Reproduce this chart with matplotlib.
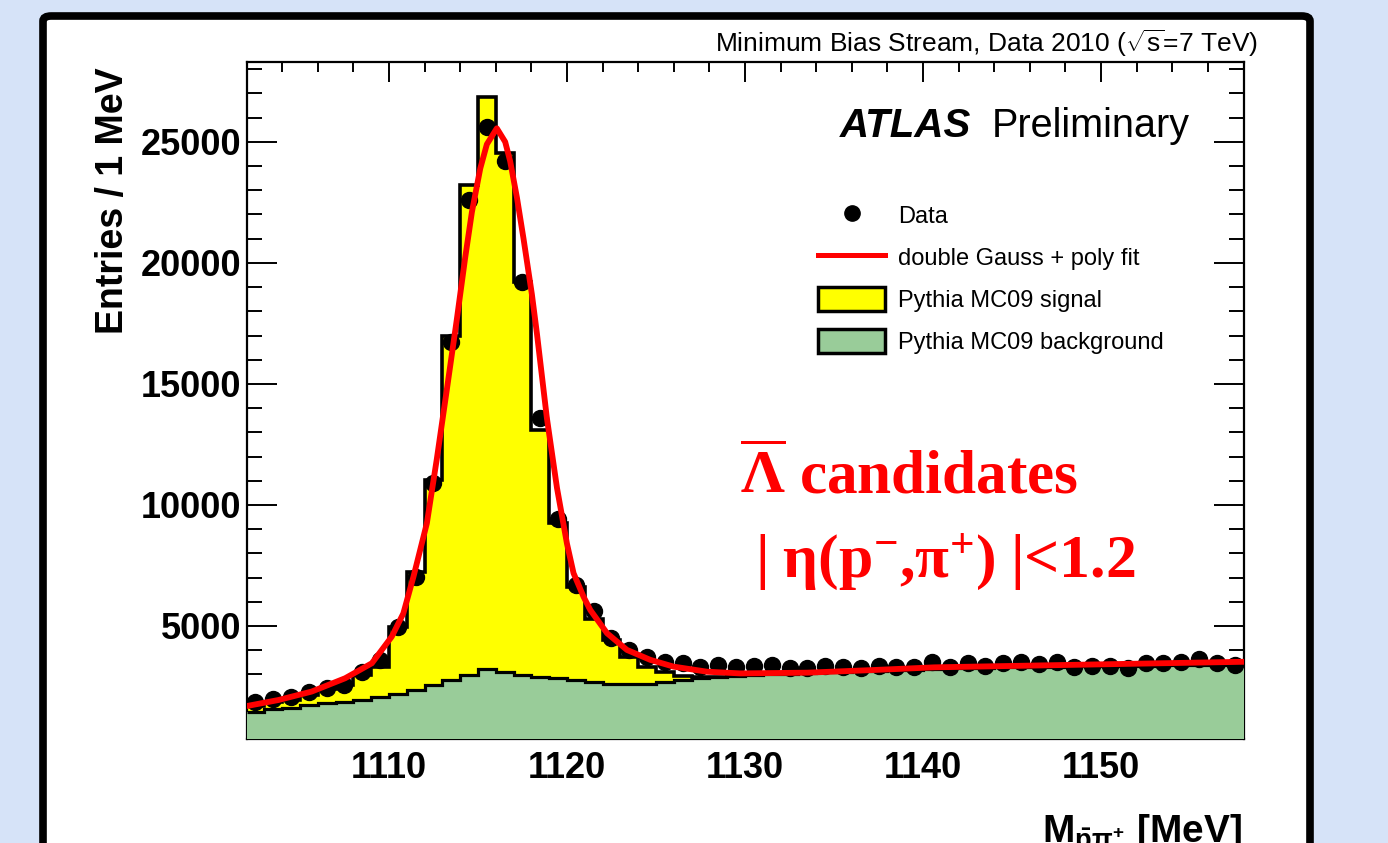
import numpy as np
import matplotlib
matplotlib.use('Agg')
import matplotlib.pyplot as plt
from matplotlib.lines import Line2D
from matplotlib.patches import Patch, FancyBboxPatch

plt.rcParams['font.family'] = ['Liberation Sans', 'DejaVu Sans']
plt.rcParams['mathtext.fontset'] = 'custom'
plt.rcParams['mathtext.rm'] = 'Liberation Sans'
plt.rcParams['mathtext.it'] = 'Liberation Sans:italic'
plt.rcParams['mathtext.sf'] = 'Liberation Sans:bold'
plt.rcParams['mathtext.bf'] = 'Liberation Serif:bold'

# histogram bins, 1 MeV wide
edges = np.arange(1102, 1159, 1)
centers = edges[:-1] + 0.5

data = [1860, 2000, 2080, 2290, 2440, 2560, 3110, 3600, 4970, 7040,
        10900, 16750, 22600, 25600, 24200, 19200, 13600, 9400, 6700, 5600,
        4500, 4000, 3730, 3520, 3470, 3320, 3390, 3290, 3350, 3390,
        3260, 3260, 3350, 3320, 3260, 3350, 3320, 3300, 3525, 3320,
        3470, 3350, 3470, 3525, 3430, 3525, 3320, 3350, 3350, 3260,
        3470, 3470, 3525, 3640, 3470, 3390]

background = [1450, 1560, 1620, 1730, 1800, 1870, 1950, 2080, 2200, 2340,
              2560, 2770, 2975, 3210, 3110, 2975, 2900, 2840, 2750, 2690,
              2620, 2600, 2600, 2700, 2770, 2850, 2900, 2950, 2980, 3000,
              3020, 3050, 3080, 3100, 3130, 3150, 3180, 3200, 3230, 3250,
              3260, 3280, 3290, 3300, 3310, 3320, 3330, 3340, 3350, 3360,
              3360, 3370, 3380, 3390, 3390, 3400]

signal = [250, 290, 330, 420, 600, 690, 1025, 1240, 2770, 4900,
          8470, 14210, 20245, 23650, 21435, 16255, 10200, 6416, 3874, 2610,
          1800, 1120, 700, 400, 180, 50, 0, 0, 0, 0,
          0, 0, 0, 0, 0, 0, 0, 0, 0, 0,
          0, 0, 0, 0, 0, 0, 0, 0, 0, 0,
          0, 0, 0, 0, 0, 0]

fit_mass = [1102.0, 1103.79, 1105.66, 1107.54, 1109.04, 1110.16, 1110.81, 1111.38,
            1112.13, 1112.69, 1113.25, 1113.82, 1114.28, 1114.66, 1115.13,
            1115.5, 1116.06, 1116.53, 1116.81, 1117.19, 1117.56, 1118.03, 1118.31,
            1118.87, 1119.44, 1120.0, 1120.37, 1120.93, 1121.31, 1122.25, 1123.37,
            1124.68, 1125.99, 1127.87, 1129.74, 1133.49, 1137.23, 1140.61, 1148.1,
            1158.0]
fit_value = [1690, 1940, 2290, 2840, 3460, 4560, 5520, 7040,
             9240, 11900, 14750, 17700, 20200, 22100, 23900,
             24900, 25560, 25000, 24200, 22700, 21000, 18700, 17100,
             13600, 10700, 8400, 7180, 6210, 5660, 4700, 4010,
             3600, 3320, 3110, 3040, 3070, 3180, 3290, 3390,
             3520]

bkg = np.array(background)
total = bkg + np.array(signal)

green = '#99CC99'

fig = plt.figure(figsize=(13.88, 8.43), dpi=100, facecolor='#D6E3F8')

frame = FancyBboxPatch((43 / 1388, -0.05), (1310 - 43) / 1388, 1.05 - 16 / 843,
                       boxstyle='round,pad=0,rounding_size=0.006',
                       transform=fig.transFigure, fc='white', ec='black', lw=5.5,
                       zorder=0)
fig.add_artist(frame)

ax = fig.add_axes([246.5 / 1388, 1 - 739 / 843, (1243.5 - 246.5) / 1388, (739 - 62) / 843])
ax.set_facecolor('white')

ax.stairs(total, edges, fill=True, color='yellow', baseline=0, zorder=1)
ax.stairs(total, edges, color='black', lw=2.6, baseline=None, zorder=2)
ax.stairs(bkg, edges, fill=True, color=green, baseline=0, zorder=3)
ax.stairs(bkg, edges, color='black', lw=2.3, baseline=None, zorder=4)
ax.plot(centers, data, 'o', color='black', markersize=11.5, zorder=5)
ax.plot(fit_mass, fit_value, '-', color='red', lw=4.2, zorder=6)

ax.set_xlim(1102, 1158)
ax.set_ylim(330, 28300)
ax.set_xticks([1110, 1120, 1130, 1140, 1150])
ax.set_xticks(np.arange(1102, 1159, 2), minor=True)
ax.set_yticks([5000, 10000, 15000, 20000, 25000])
ax.set_yticks(np.arange(1000, 28001, 1000), minor=True)
ax.tick_params(which='both', direction='in', top=True, right=True, width=1.4)
ax.tick_params(axis='x', which='major', length=14.4, pad=9, labelsize=26)
ax.tick_params(axis='x', which='minor', length=7.2)
ax.tick_params(axis='y', which='major', length=21.6, pad=4, labelsize=26)
ax.tick_params(axis='y', which='minor', length=10.8)
for lab in ax.get_xticklabels() + ax.get_yticklabels():
    lab.set_fontweight('bold')
for sp in ax.spines.values():
    sp.set_linewidth(1.6)

fig.text(113 / 1388, 1 - 67 / 843, 'Entries / 1 MeV', rotation=90, ha='center', va='top',
         fontsize=27, fontweight='bold')
fig.text(1242 / 1388, 1 - 812 / 843, r'M$_{\mathsf{\bar{p}}\mathsf{\pi}^{\mathsf{+}}}$ [MeV]',
         ha='right', va='top', fontsize=28, fontweight='bold')
fig.text(1258 / 1388, 1 - 52 / 843, r'Minimum Bias Stream, Data 2010 ($\sqrt{\mathrm{s}}$=7 TeV)',
         ha='right', va='baseline', fontsize=19)

ax.text(840 / 1388, 1 - 137 / 843, 'ATLAS', transform=fig.transFigure, fontsize=29,
        fontweight='bold', fontstyle='italic', va='baseline', ha='left')
ax.text(992 / 1388, 1 - 137 / 843, 'Preliminary', transform=fig.transFigure, fontsize=28.5,
        va='baseline', ha='left')

ax.text(740 / 1388, 1 - 494 / 843, r'$\mathbf{\overline{\Lambda}}$ candidates', transform=fig.transFigure,
        fontsize=44, color='red', family='Liberation Serif', fontweight='bold',
        va='baseline', ha='left')
ax.text(755 / 1388, 1 - 577 / 843, r'$\mathbf{|\;\eta(p^{-}}$,$\mathbf{\pi^{+})\;|}$<1.2',
        transform=fig.transFigure, fontsize=44.5, color='red', family='Liberation Serif',
        fontweight='bold', va='baseline', ha='left')

handles = [Line2D([], [], marker='o', color='black', ls='none', markersize=11),
           Line2D([], [], color='red', lw=3.6),
           Patch(fc='yellow', ec='black', lw=2.5),
           Patch(fc=green, ec='black', lw=2.5)]
labels = ['Data', 'double Gauss + poly fit', 'Pythia MC09 signal', 'Pythia MC09 background']
ax.legend(handles, labels, loc='upper left', bbox_to_anchor=(818 / 1388, 1 - 203 / 843),
          bbox_transform=fig.transFigure, frameon=False, fontsize=17, borderpad=0,
          borderaxespad=0, handlelength=2.85, handleheight=1.2, handletextpad=0.55,
          labelspacing=0.71)

fig.savefig('out.png', dpi=100, facecolor=fig.get_facecolor())
